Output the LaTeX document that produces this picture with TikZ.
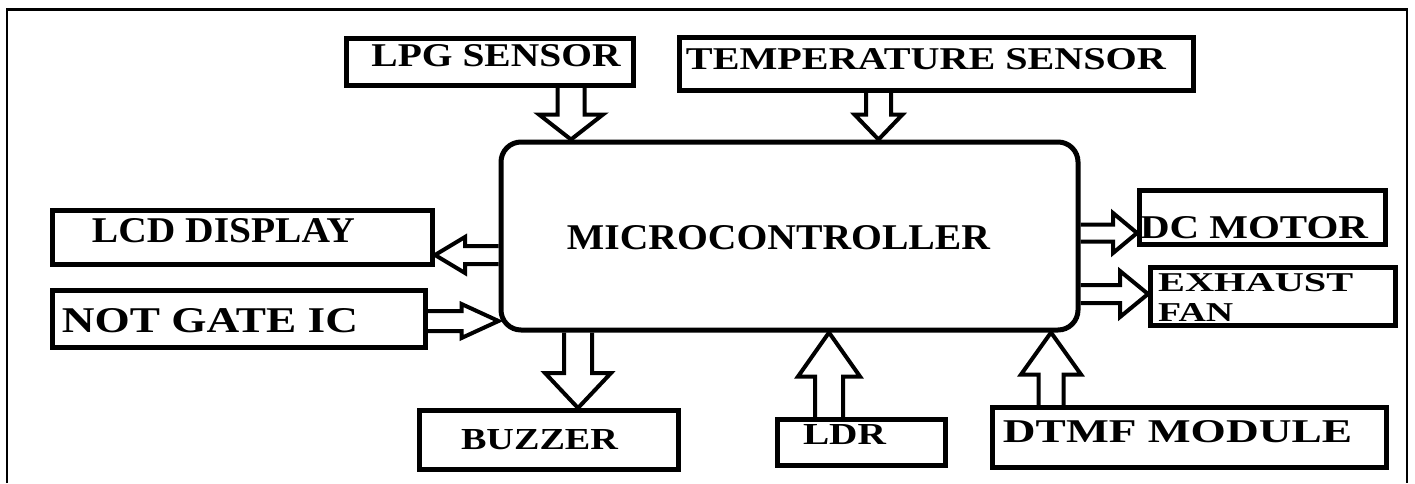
\documentclass[tikz,border=0pt]{standalone}
\usepackage{fontspec}
\setmainfont{Liberation Serif}
\usepackage{graphicx}
\usetikzlibrary{calc,positioning}
\newcommand\fitlbl[3]{\resizebox{#1pt}{#2pt}{\bfseries #3}}

\begin{document}
\begin{tikzpicture}[x=1pt,y=-1pt,
    unit/.style={draw,line width=5pt,inner sep=0pt},
    lbl/.style={inner sep=1pt,font=\fontsize{24}{30}\selectfont},
    hollow/.style n args={3}{draw,line width=4pt,line join=miter,
      to path={let \p1=(\tikztostart),\p2=(\tikztotarget),
        \n1={atan2(\y2-\y1,\x2-\x1)},\n2={veclen(\x2-\x1,\y2-\y1)} in
        {[shift={(\p1)},rotate=\n1]
        (0,-#1) -- ({\n2-#3},-#1) -- ({\n2-#3},-#2) -- (\n2,0)
        -- ({\n2-#3},#2) -- ({\n2-#3},#1) -- (0,#1)}}}]
  \useasboundingbox (0,0) rectangle (1415,483);
  \draw[line width=2.5pt] (7,483) -- (7,9.5) -- (1407,9.5) -- (1407,483);

  \node[unit,rounded corners=20pt,minimum width=577pt,minimum height=188pt] (mcu) at (789.5,236) {};
  \node[unit,minimum width=287pt,minimum height=47pt] (lpg) at (490,62) {};
  \node[unit,minimum width=514pt,minimum height=53pt] (temp) at (936.5,64) {};
  \node[unit,minimum width=380pt,minimum height=54pt] (lcd) at (242.5,237.5) {};
  \node[unit,minimum width=373pt,minimum height=57pt] (notic) at (239,319) {};
  \node[unit,minimum width=259pt,minimum height=59pt] (buzzer) at (549,440) {};
  \node[unit,minimum width=168pt,minimum height=46pt] (ldr) at (861.5,442.5) {};
  \node[unit,minimum width=394pt,minimum height=60pt] (dtmf) at (1189.5,437.5) {};
  \node[unit,minimum width=246pt,minimum height=54pt] (motor) at (1262.5,217.5) {};
  \node[unit,minimum width=245pt,minimum height=58pt] (fan) at (1273,296.5) {};

  \node[lbl] at (778.5,237.5) {\fitlbl{423}{24}{MICROCONTROLLER}};
  \node[lbl] at (496,56) {\fitlbl{249}{22}{LPG SENSOR}};
  \node[lbl] at (926,59) {\fitlbl{480}{21}{TEMPERATURE SENSOR}};
  \node[lbl] at (223.5,231) {\fitlbl{263}{24}{LCD DISPLAY}};
  \node[lbl] at (210,321) {\fitlbl{296}{24}{NOT GATE IC}};
  \node[lbl] at (539.5,440) {\fitlbl{157}{20}{BUZZER}};
  \node[lbl] at (844.5,435) {\fitlbl{83}{20}{LDR}};
  \node[lbl] at (1177.5,432) {\fitlbl{349}{22}{DTMF MODULE}};
  \node[lbl] at (1254,228) {\fitlbl{228}{22}{DC MOTOR}};
  \node[lbl,align=left,anchor=west] at (1157,297) {\fitlbl{195}{18}{EXHAUST}\\\fitlbl{75}{18}{FAN}};

  \draw[hollow={13.5}{32}{25}] ([xshift=81pt]lpg.south) to ([xshift=81pt]lpg.south |- mcu.north);
  \draw[hollow={12.5}{24}{25}] ([xshift=-58pt]temp.south) to ([xshift=-58pt]temp.south |- mcu.north);
  \draw[hollow={14}{33}{35}] ([xshift=29pt]buzzer.north |- mcu.south) to ([xshift=29pt]buzzer.north);
  \draw[hollow={14}{31}{44}] ([xshift=-32.5pt]ldr.north) to ([xshift=-32.5pt]ldr.north |- mcu.south);
  \draw[hollow={12.5}{30}{42}] ([xshift=-138.5pt]dtmf.north) to ([xshift=-138.5pt]dtmf.north |- mcu.south);
  \draw[hollow={9}{18}{30}] ([yshift=-17.5pt]lcd.east -| mcu.west) to ([yshift=-17.5pt]lcd.east);
  \draw[hollow={10}{17}{37}] ([yshift=-2pt]notic.east) to ([yshift=-2pt]notic.east -| mcu.west);
  \draw[hollow={8.5}{20}{24}] ([yshift=-15.5pt]motor.west -| mcu.east) to ([yshift=-15.5pt]motor.west);
  \draw[hollow={9}{23}{28}] ([yshift=2.5pt]fan.west -| mcu.east) to ([yshift=2.5pt]fan.west);
\end{tikzpicture}
\end{document}
